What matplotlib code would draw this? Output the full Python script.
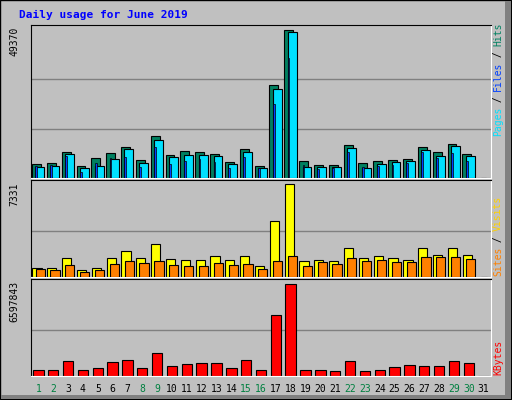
import matplotlib
matplotlib.use("Agg")
import matplotlib.pyplot as plt
from matplotlib.patches import Rectangle

days = list(range(1, 32))
weekend = [1, 2, 8, 9, 15, 16, 22, 23, 29, 30]
hits = [4800, 5140, 8820, 4130, 6810, 8490, 10500, 6140, 13850, 7820, 9160, 8820, 8150, 5470, 9830, 4130,
        30940, 49370, 5810, 4470, 4470, 11170, 5140, 5810, 6140, 6480, 10500, 8820, 11500, 8150, 0]
files = [3800, 4130, 8150, 3460, 4130, 6480, 9830, 5140, 12510, 7150, 7820, 7820, 7480, 4800, 8820, 3460,
         29600, 48700, 3800, 3800, 3800, 10160, 3460, 4800, 5470, 5810, 9490, 7480, 10830, 7480, 0]
pages = [4130, 4470, 7480, 2120, 5140, 6810, 7150, 3800, 10500, 4800, 5810, 6480, 5470, 3460, 7150, 3460,
         24570, 39990, 4470, 3130, 3460, 8820, 3800, 4130, 4470, 5140, 8820, 6810, 8490, 5810, 0]
visits = [720, 720, 1510, 560, 720, 1510, 2070, 1510, 2630, 1430, 1350, 1350, 1670, 1350, 1670, 880,
          4380, 7331, 1280, 1350, 1280, 2310, 1510, 1670, 1510, 1350, 2310, 1750, 2310, 1750, 0]
sites = [640, 560, 960, 400, 560, 1040, 1280, 1120, 1280, 960, 880, 880, 1120, 960, 1040, 640,
         1280, 1670, 880, 1200, 1040, 1510, 1280, 1350, 1200, 1200, 1590, 1590, 1590, 1430, 0]
kbytes = [435000, 435000, 1088000, 435000, 580000, 1015000, 1160000, 580000, 1668000, 725000, 870000,
          943000, 943000, 580000, 1160000, 435000, 4350000, 6597843, 435000, 435000, 363000, 1088000,
          363000, 435000, 653000, 798000, 725000, 725000, 1088000, 943000, 0]

BG = "#C0C0C0"
fig = plt.figure(figsize=(5.12, 4.0), dpi=100, facecolor=BG)
W, H = 512, 400

def box(x0, y0, x1, y1):
    return [x0 / W, 1 - y1 / H, (x1 - x0) / W, (y1 - y0) / H]

frame = fig.add_axes([0, 0, 1, 1])
frame.set_xlim(0, W); frame.set_ylim(H, 0); frame.axis("off")
frame.add_patch(Rectangle((0, 0), W - 1, H - 1, fill=False, ec="black", lw=1))
frame.add_patch(Rectangle((505, 1), 6, 398, fc="#808080", ec="none"))
frame.add_patch(Rectangle((1, 395), 510, 4, fc="#808080", ec="none"))

mono = "DejaVu Sans Mono"
fig.text(19 / W, 1 - 15 / H, "Daily usage for June 2019", color="#0000FF", fontsize=8,
         fontweight="bold", family=mono, va="center")

def setup(ax, top, grids):
    ax.set_facecolor(BG)
    ax.set_xlim(0.5, 31.5)
    ax.set_ylim(0, top)
    for g in grids:
        ax.axhline(g, color="#808080", lw=1, zorder=0)
    ax.set_xticks([]); ax.set_yticks([])
    for s in ax.spines.values():
        s.set_color("black")
    ax.spines["right"].set_color("white")
    ax.spines["bottom"].set_color("white")

ax1 = fig.add_axes(box(31, 25, 491, 178))
t1 = 49370 * 153 / 148
setup(ax1, t1, [49370 / 3, 2 * 49370 / 3])
ax1.bar([d - 0.13 for d in days], hits, width=0.6, color="#008060", ec="black", lw=0.8, zorder=2)
ax1.bar([d + 0.1 for d in days], files, width=0.6, color="#00E0FF", ec="black", lw=0.8, zorder=3)
ax1.bar([d - 0.14 for d in days], pages, width=0.12, color="#0040FF", ec="black", lw=0.5, zorder=4)

ax2 = fig.add_axes(box(31, 180, 491, 277))
t2 = 7331 * 96 / 92
setup(ax2, t2, [7331 / 2])
ax2.bar([d - 0.1 for d in days], visits, width=0.62, color="#FFFF00", ec="black", lw=0.8, zorder=2)
ax2.bar([d + 0.12 for d in days], sites, width=0.62, color="#FF8000", ec="black", lw=0.8, zorder=3)

ax3 = fig.add_axes(box(31, 279, 491, 376))
t3 = 6597843 * 96 / 91
setup(ax3, t3, [6597843 / 2])
ax3.bar(days, kbytes, width=0.7, color="#FF0000", ec="black", lw=0.8, zorder=2)

for d in days:
    fig.text((31 + (d - 0.5) * 460 / 31) / W, 1 - 389 / H, str(d), fontsize=7, family=mono,
             ha="center", va="center", color="#008040" if d in weekend else "black")

def leftlab(y, s):
    fig.text(14 / W, 1 - y / H, s, rotation=90, fontsize=7, family=mono, ha="center", va="top")
leftlab(27, "49370"); leftlab(182, "7331"); leftlab(281, "6597843")

def rightlab(yc, parts):
    n = sum(len(p[0]) for p in parts)
    ch = 5.6
    y = yc + n * ch / 2
    for s, c in parts:
        fig.text(498 / W, 1 - y / H, s, rotation=90, fontsize=7, family=mono, color=c,
                 ha="center", va="bottom")
        y -= len(s) * ch

rightlab(80, [("Pages", "#00E0FF"), (" / ", "black"), ("Files", "#0040FF"), (" / ", "black"), ("Hits", "#008060")])
rightlab(237, [("Sites", "#FF8000"), (" / ", "black"), ("Visits", "#FFD000")])
rightlab(358, [("KBytes", "#FF0000")])

fig.savefig("out.png", dpi=100, facecolor=BG)
